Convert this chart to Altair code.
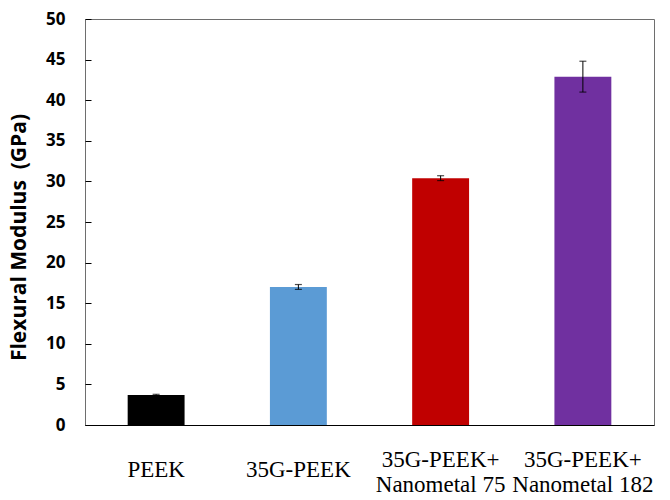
import altair as alt
import pandas as pd

# Flexural modulus of PEEK composites, mean and standard deviation (GPa)
materials = ["PEEK", "35G-PEEK", "35G-PEEK+\nNanometal 75", "35G-PEEK+\nNanometal 182"]
modulus = [3.7, 17.0, 30.4, 42.9]
std_dev = [0.08, 0.3, 0.3, 1.9]
bar_colors = ["#000000", "#5B9BD5", "#C00000", "#7030A0"]
y_major = list(range(0, 51, 5))

df = pd.DataFrame({
    "material": materials,
    "modulus": modulus,
    "lo": [m - s for m, s in zip(modulus, std_dev)],
    "hi": [m + s for m, s in zip(modulus, std_dev)],
})

two_line = "indexof(datum.value, '\\n') >= 0"

x_enc = alt.X(
    "material:N",
    sort=materials,
    scale=alt.Scale(paddingInner=0.6, paddingOuter=0.3),
    axis=alt.Axis(
        title=None,
        ticks=False,
        domainColor="#000000",
        domainWidth=1.2,
        labelAngle=0,
        labelFont="Liberation Serif",
        labelFontSize=23,
        labelColor="#000000",
        labelLineHeight=25,
        labelBaseline="top",
        labelPadding={"condition": {"test": two_line, "value": 23}, "value": 33},
        labelExpr="split(datum.label, '\\n')",
    ),
)

y_scale = alt.Scale(domain=[0, 50], nice=False)

# The y axis is shifted 6 px into the plot so its ticks sit just inside the frame line
bars = alt.Chart(df).mark_bar().encode(
    x=x_enc,
    y=alt.Y(
        "modulus:Q",
        scale=y_scale,
        axis=alt.Axis(
            title="Flexural Modulus\u00a0 (GPa)",
            values=y_major,
            offset=-6,
            domain=False,
            ticks=True,
            tickSize=6,
            tickColor="#000000",
            tickWidth=1,
            grid=False,
            labelOverlap=False,
            labelFont="Open Sans",
            labelFontWeight="bold",
            labelFontSize=17,
            labelColor="#000000",
            labelPadding=20,
            titleFont="Open Sans",
            titleFontWeight="bold",
            titleFontSize=21,
            titleColor="#000000",
            titleX=-72,
            titleY=218,
            titleBaseline="middle",
        ),
    ),
    color=alt.Color("material:N", sort=materials,
                    scale=alt.Scale(domain=materials, range=bar_colors), legend=None),
)

# Error bars: vertical whisker plus caps at mean ± standard deviation
whisker = alt.Chart(df).mark_rule(color="#000000", strokeWidth=1).encode(
    x=alt.X("material:N", sort=materials),
    y="lo:Q",
    y2="hi:Q",
)
cap_lo = alt.Chart(df).mark_tick(color="#000000", size=7, thickness=1.2, orient="horizontal").encode(
    x=alt.X("material:N", sort=materials),
    y="lo:Q",
)
cap_hi = alt.Chart(df).mark_tick(color="#000000", size=7, thickness=1.2, orient="horizontal").encode(
    x=alt.X("material:N", sort=materials),
    y="hi:Q",
)

chart = (
    alt.layer(bars, whisker, cap_lo, cap_hi)
    .properties(
        width=569,
        height=406,
        autosize=alt.AutoSizeParams(type="none"),
        padding={"left": 85, "top": 19, "right": 16, "bottom": 75},
        background="#ffffff",
    )
    .configure_view(stroke="#6e6e6e", strokeWidth=1)
)

chart.save("out.html", embed_options={"renderer": "svg", "actions": False})
